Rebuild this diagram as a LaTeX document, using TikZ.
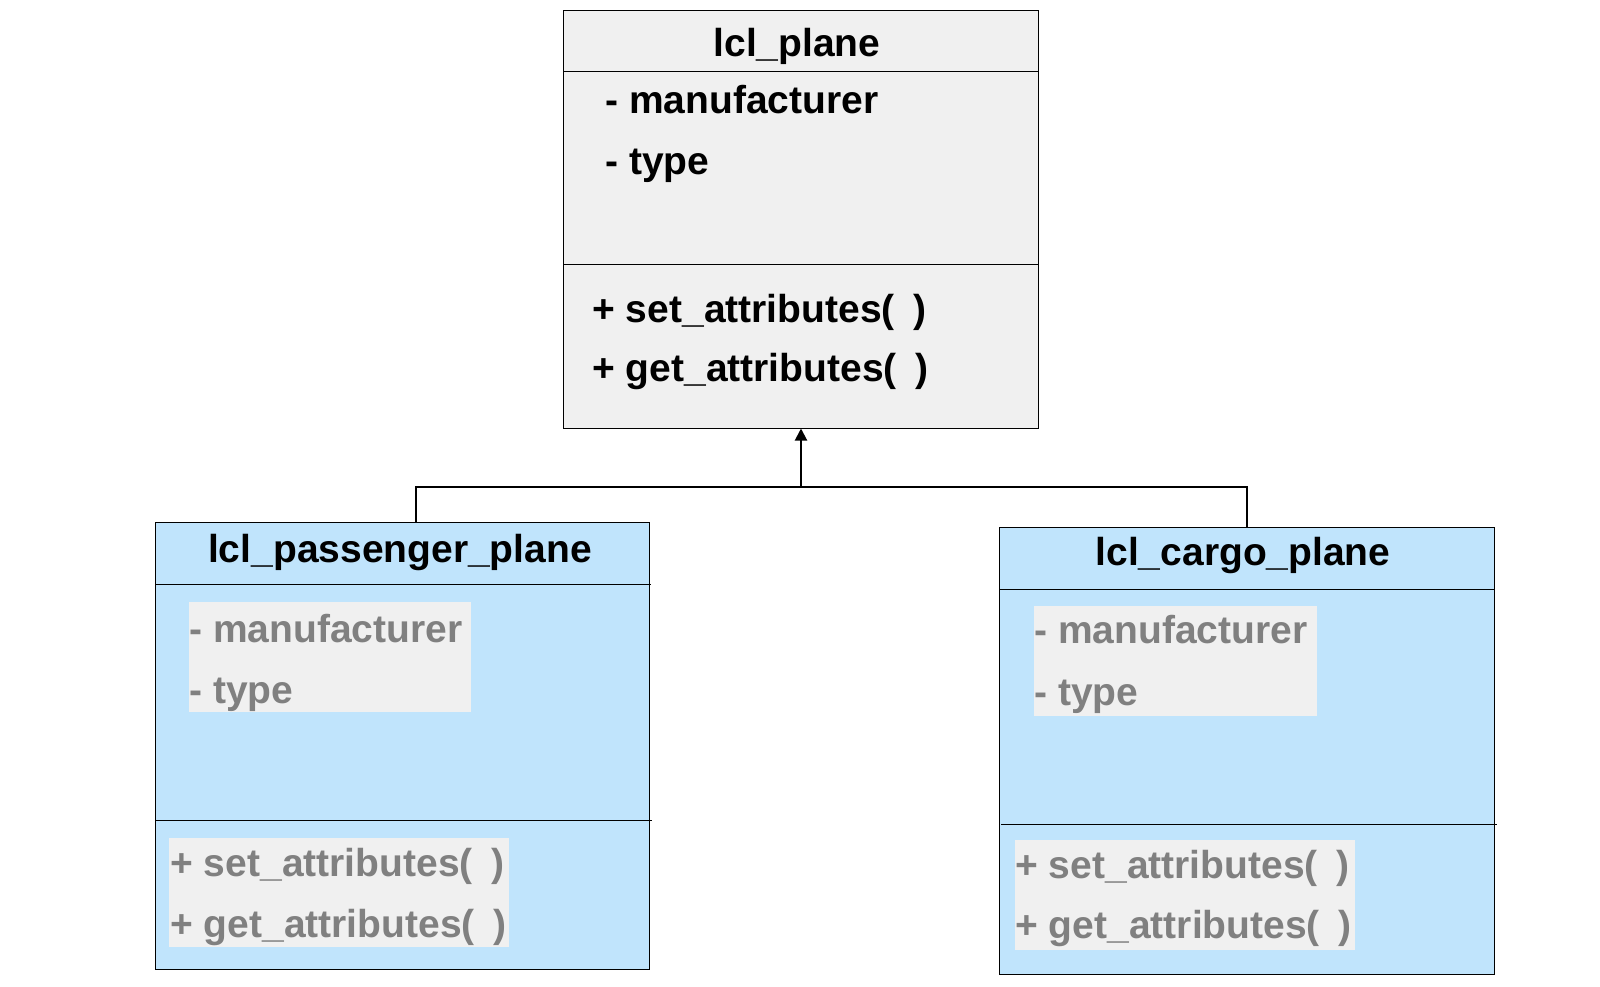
\documentclass[tikz,border=0pt]{standalone}
\usepackage{fontspec}
\setmainfont{Liberation Sans}
\usetikzlibrary{arrows.meta}
\definecolor{boxgray}{HTML}{F0F0F0}
\definecolor{boxblue}{HTML}{C0E4FC}
\definecolor{txtgray}{HTML}{808080}
\newcommand{\parens}{(\hspace{0.48em})}
\begin{document}
\begin{tikzpicture}[x=0.5pt,y=-0.5pt,
  classbox/.style={draw=black,line width=0.5pt,inner sep=0pt,rectangle},
  sepline/.style={draw=black,line width=0.5pt},
  txt/.style={inner sep=0pt,font=\fontsize{19.5}{23}\selectfont\bfseries},
  ttl/.style={txt,anchor=base},
  mem/.style={txt,anchor=base west},
  gmem/.style={mem,text=txtgray},
  hl/.style={fill=boxgray},
  conn/.style={draw=black,line width=1pt}]
\useasboundingbox (0,0) rectangle (1600,986);
% parent class
\node[classbox,fill=boxgray,minimum width=237.5pt,minimum height=209pt] (plane) at (800.5,219) {};
\draw[sepline] (563,71) -- (1038,71);
\draw[sepline] (563,264) -- (1038,264);
\node[ttl] (planeT) at (797,56) {lcl\_plane};
\node[mem] (planeA1) at (605,113) {- manufacturer};
\node[mem] (planeA2) at (605,174) {- type};
\node[mem] (planeM1) at (592,322) {+ set\_attributes\parens};
\node[mem] (planeM2) at (592,381) {+ get\_attributes\parens};
% passenger plane
\node[classbox,fill=boxblue,minimum width=247pt,minimum height=223.5pt] (pass) at (402,745.5) {};
\draw[sepline] (155,584) -- (651,584);
\draw[sepline] (155,820) -- (652,820);
\fill[hl] (189,602) rectangle (471,712);
\fill[hl] (169,838) rectangle (509,947);
\node[ttl] (passT) at (400,562) {lcl\_passenger\_plane};
\node[gmem] (passA1) at (189,642) {- manufacturer};
\node[gmem] (passA2) at (189,703) {- type};
\node[gmem] (passM1) at (170,876) {+ set\_attributes\parens};
\node[gmem] (passM2) at (170,937) {+ get\_attributes\parens};
% cargo plane
\node[classbox,fill=boxblue,minimum width=247.5pt,minimum height=223.5pt] (cargo) at (1246.5,750.5) {};
\draw[sepline] (999,589) -- (1494,589);
\draw[sepline] (1001,824) -- (1497,824);
\fill[hl] (1034,606) rectangle (1317,716);
\fill[hl] (1015,840) rectangle (1355,950);
\node[ttl] (cargoT) at (1243,565) {lcl\_cargo\_plane};
\node[gmem] (cargoA1) at (1034,643) {- manufacturer};
\node[gmem] (cargoA2) at (1034,705) {- type};
\node[gmem] (cargoM1) at (1015,878) {+ set\_attributes\parens};
\node[gmem] (cargoM2) at (1015,938) {+ get\_attributes\parens};
% generalisation connector
\coordinate (junc) at (801,487);
\coordinate (lbend) at (416,487);
\draw[conn] (lbend |- pass.north) -- (lbend) -- (junc);
\draw[conn] (cargo.north) |- (junc);
\draw[conn,-{Triangle[width=6pt,length=6pt]}] (junc) -- (junc |- plane.south);
\end{tikzpicture}
\end{document}
